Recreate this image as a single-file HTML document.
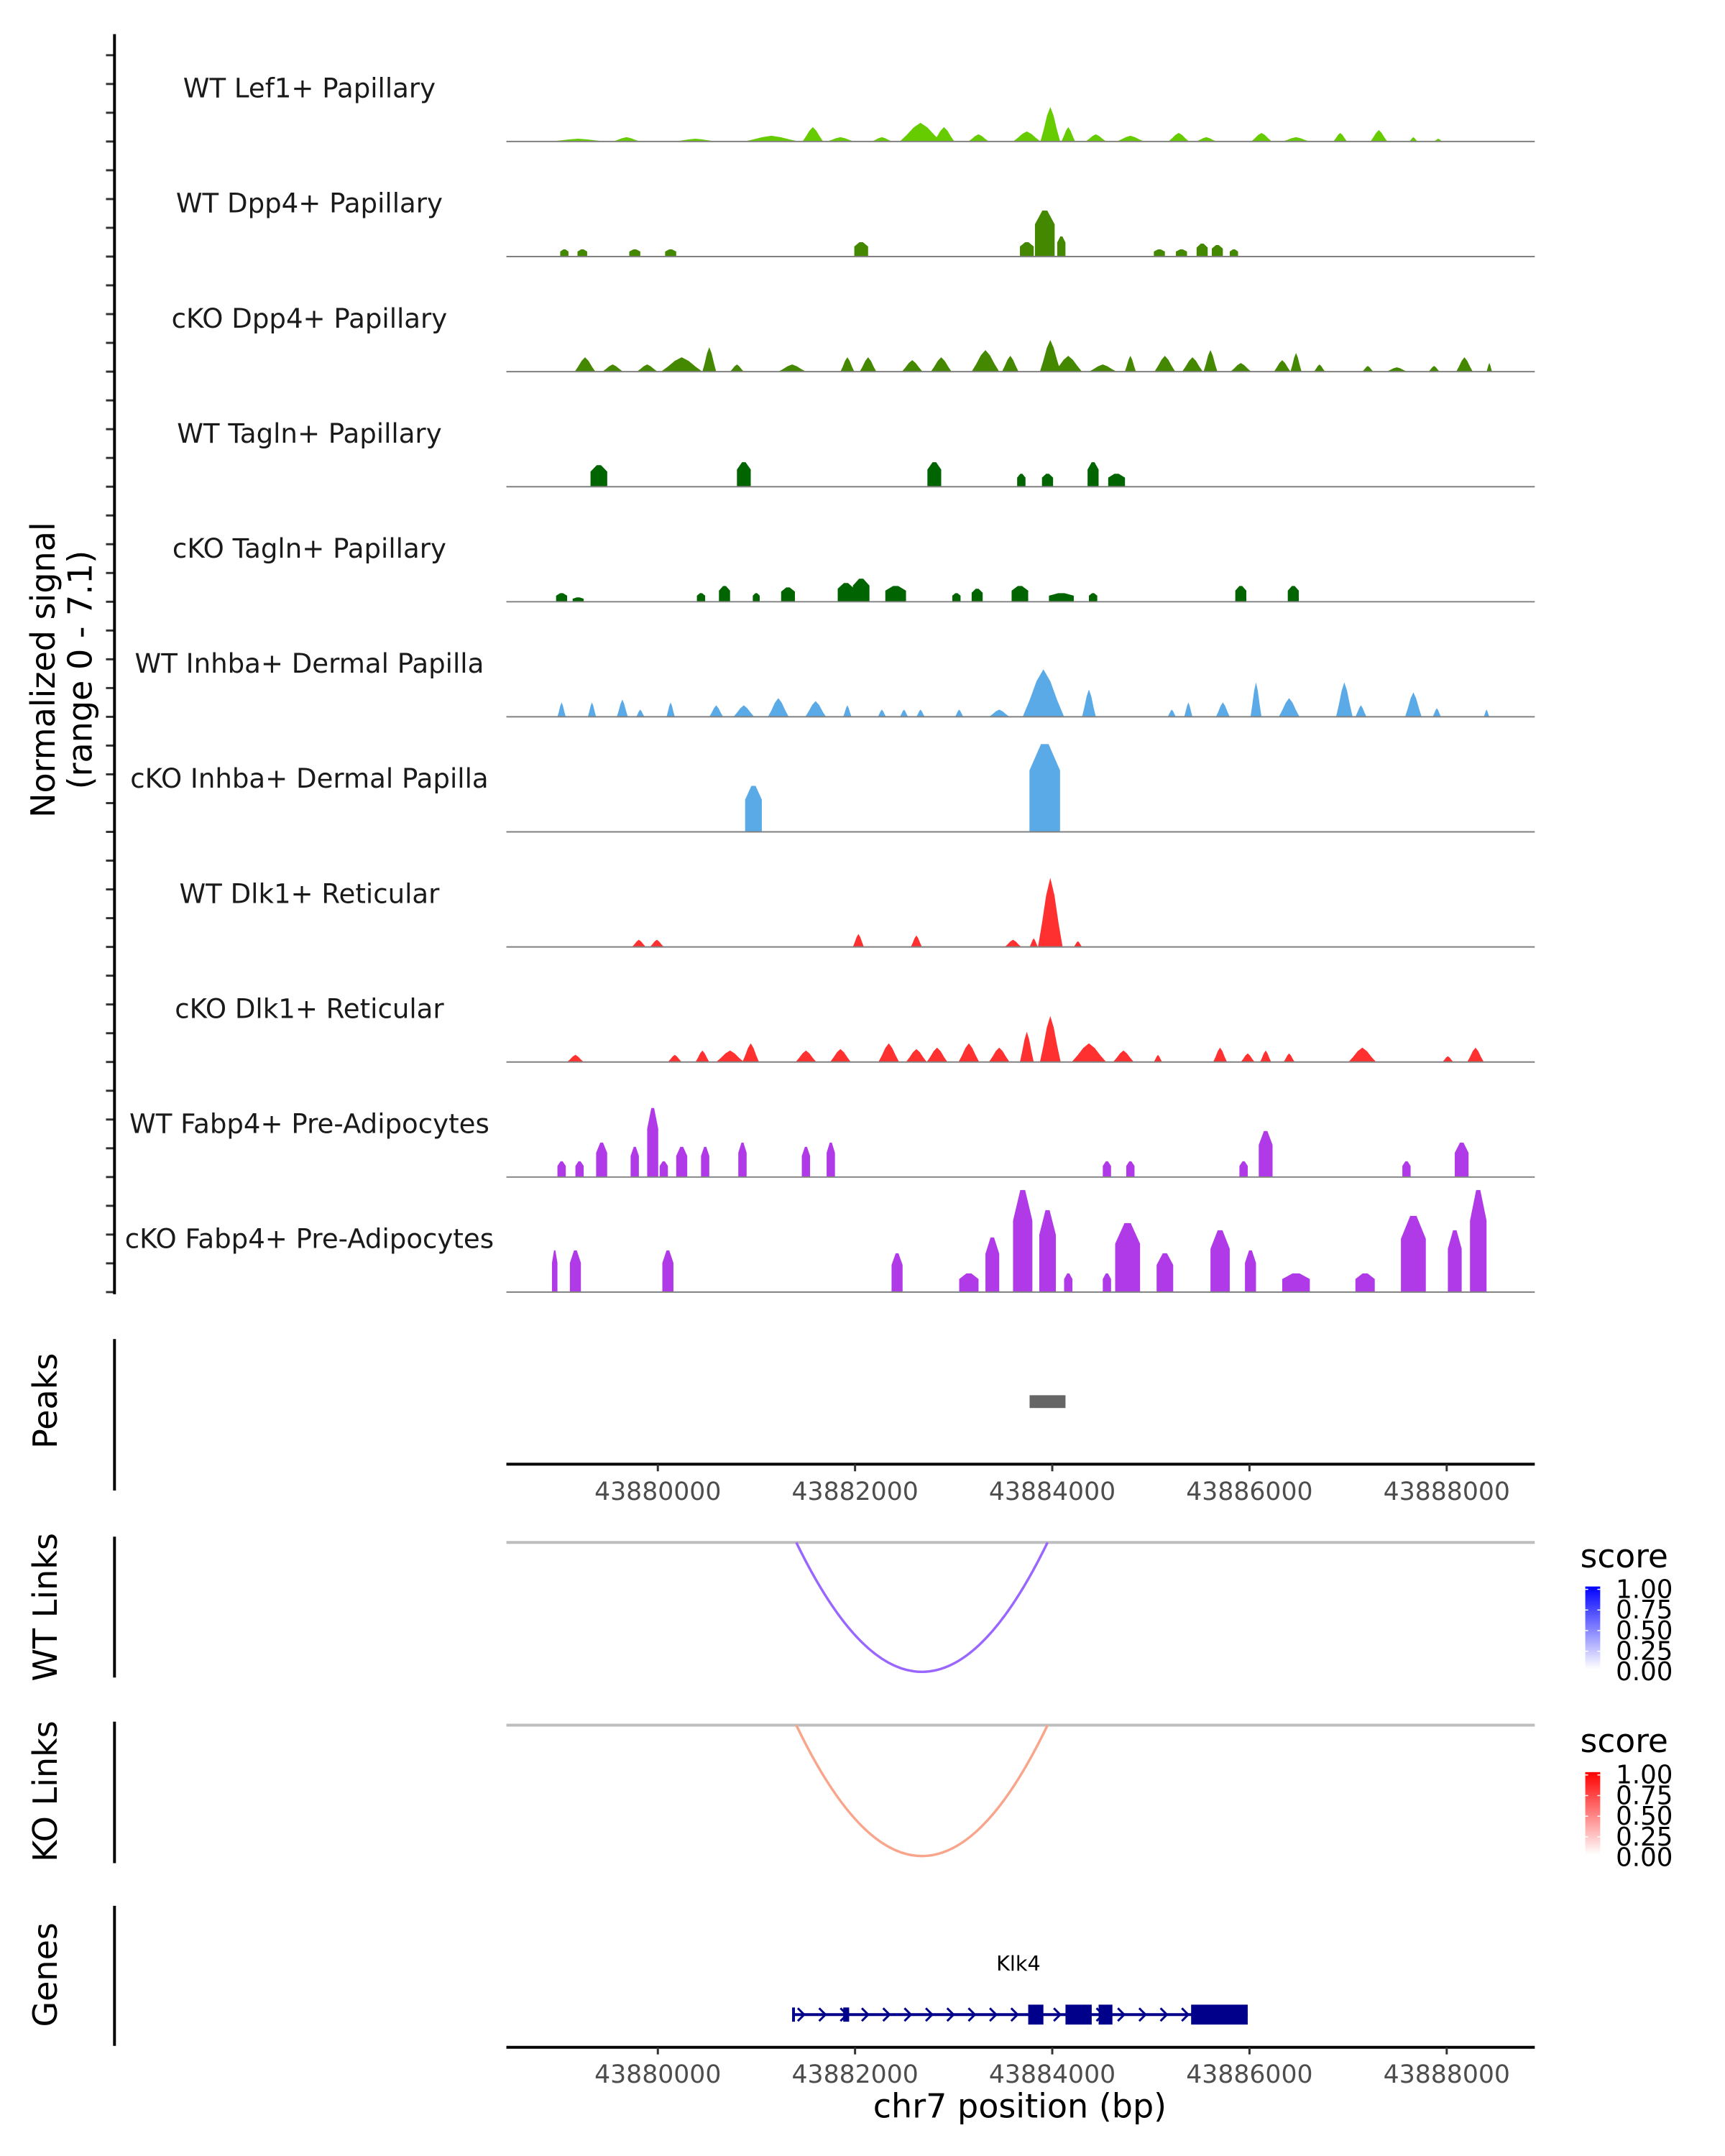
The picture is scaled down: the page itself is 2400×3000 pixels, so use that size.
<!DOCTYPE html>
<html><head><meta charset="utf-8"><style>
html,body{margin:0;padding:0;background:#fff;}
svg{display:block;font-family:"DejaVu Sans","Liberation Sans",sans-serif;}
</style></head><body>
<svg id="chart" width="2400" height="3000" viewBox="0 0 2400 3000" xmlns="http://www.w3.org/2000/svg">
<g transform="scale(0.9895)">
<g id="tracks"></g>
<g id="axes"></g>
</g>
</svg>
<script>
const trackNames = ["WT Lef1+ Papillary","WT Dpp4+ Papillary","cKO Dpp4+ Papillary","WT Tagln+ Papillary","cKO Tagln+ Papillary","WT Inhba+ Dermal Papilla","cKO Inhba+ Dermal Papilla","WT Dlk1+ Reticular","cKO Dlk1+ Reticular","WT Fabp4+ Pre-Adipocytes","cKO Fabp4+ Pre-Adipocytes"];
const trackColors = ["#66cc00","#448800","#448800","#006400","#006400","#5aaae8","#5aaae8","#ff3030","#ff3030","#b03ae8","#b03ae8"];
const trackShapes = ["m","b","m","b","b","m","b","m","m","b","b"];
// peaks: [center bp, width bp, normalized value]
const lef1WT = [[43879192,560,0.2],[43879682,280,0.3],[43880382,420,0.2],[43881152,560,0.4],[43881572,210,1.0],[43881852,280,0.3],[43882272,210,0.3],[43882664,420,1.3],[43882902,210,1.0],[43883252,210,0.5],[43883742,280,0.7],[43883980,200,2.4],[43884162,140,1.0],[43884442,210,0.5],[43884792,280,0.4],[43885282,210,0.6],[43885562,210,0.3],[43886122,210,0.6],[43886472,280,0.3],[43886920,140,0.6],[43887312,170,0.8],[43887662,84,0.3],[43887914,84,0.2]];
const dpp4WT = [[43879052,84,0.5],[43879234,98,0.5],[43879766,112,0.5],[43880130,112,0.5],[43882062,140,1.0],[43883742,140,1.0],[43883924,200,3.2],[43884092,84,1.4],[43885086,112,0.5],[43885310,112,0.5],[43885520,112,0.9],[43885674,112,0.8],[43885842,84,0.5]];
const dpp4KO = [[43879262,210,1.0],[43879542,210,0.5],[43879892,210,0.5],[43880242,420,1.0],[43880522,140,1.7],[43880802,140,0.5],[43881362,280,0.5],[43881922,140,1.0],[43882132,168,1.0],[43882580,210,0.8],[43882874,210,1.0],[43883322,280,1.5],[43883574,168,1.1],[43883980,210,2.2],[43884162,280,1.1],[43884512,280,0.5],[43884792,112,1.1],[43885142,210,1.1],[43885422,210,1.0],[43885604,140,1.5],[43885912,210,0.6],[43886332,168,0.8],[43886472,112,1.3],[43886710,112,0.5],[43887200,112,0.4],[43887494,210,0.3],[43887872,112,0.4],[43888180,168,1.0],[43888432,56,0.6]];
const taglnWT = [[43879402,170,1.5],[43880872,140,1.7],[43882804,140,1.7],[43883686,84,0.9],[43883952,112,0.9],[43884414,112,1.7],[43884652,170,0.9]];
const taglnKO = [[43879024,112,0.6],[43879192,112,0.3],[43880438,84,0.6],[43880676,112,1.1],[43880998,70,0.6],[43881320,140,1.0],[43881908,168,1.3],[43882062,168,1.6],[43882412,210,1.1],[43883028,84,0.6],[43883238,112,0.9],[43883672,168,1.1],[43884092,252,0.6],[43884414,84,0.6],[43885912,112,1.1],[43886444,112,1.1]];
const inhbaWT = [[43879024,84,1.0],[43879332,84,1.0],[43879640,112,1.2],[43879822,84,0.5],[43880130,84,1.0],[43880592,140,0.8],[43880872,210,0.8],[43881222,210,1.3],[43881600,210,1.1],[43881922,84,0.8],[43882272,84,0.5],[43882496,84,0.5],[43882664,84,0.5],[43883056,84,0.5],[43883462,210,0.5],[43883910,420,3.3],[43884372,140,1.9],[43885212,84,0.5],[43885380,84,1.0],[43885730,140,1.0],[43886066,112,2.4],[43886402,210,1.3],[43886962,168,2.4],[43887130,112,0.8],[43887662,168,1.7],[43887900,84,0.6],[43888404,56,0.5]];
const inhbaKO = [[43880970,170,3.2],[43883924,310,6.1]];
const dlk1WT = [[43879808,140,0.5],[43879990,140,0.5],[43882034,112,0.9],[43882622,112,0.8],[43883602,168,0.5],[43883812,84,0.6],[43883980,250,4.8],[43884260,84,0.4]];
const dlk1KO = [[43879164,168,0.5],[43880172,140,0.5],[43880452,140,0.8],[43880732,280,0.8],[43880942,168,1.3],[43881502,210,0.8],[43881852,210,0.9],[43882342,210,1.3],[43882622,210,0.9],[43882832,210,1.0],[43883154,210,1.3],[43883462,210,1.0],[43883742,140,2.1],[43883980,210,3.2],[43884372,350,1.3],[43884722,210,0.8],[43885072,84,0.5],[43885702,140,1.0],[43885982,140,0.6],[43886164,112,0.8],[43886402,112,0.6],[43887144,280,1.0],[43888012,112,0.4],[43888292,168,1.0]];
const fabp4WT = [[43879024,84,1.1],[43879206,84,1.1],[43879430,112,2.4],[43879766,84,2.1],[43879948,112,4.8],[43880060,84,1.1],[43880242,112,2.1],[43880480,84,2.1],[43880858,84,2.4],[43881502,84,2.1],[43881754,84,2.4],[43884554,84,1.1],[43884792,84,1.1],[43885940,84,1.1],[43886164,140,3.2],[43887592,84,1.1],[43888152,140,2.4]];
const fabp4KO = [[43878954,56,2.9],[43879164,112,2.9],[43880102,112,2.9],[43882426,112,2.7],[43883154,196,1.3],[43883392,140,3.8],[43883700,196,7.1],[43883952,168,5.7],[43884162,84,1.3],[43884554,84,1.3],[43884764,252,4.8],[43885142,168,2.7],[43885702,196,4.3],[43886010,112,2.9],[43886472,280,1.3],[43887172,196,1.3],[43887662,252,5.3],[43888082,140,4.3],[43888320,168,7.1]];
const trackData = [lef1WT,dpp4WT,dpp4KO,taglnWT,taglnKO,inhbaWT,inhbaKO,dlk1WT,dlk1KO,fabp4WT,fabp4KO];
const xTicks = [43880000,43882000,43884000,43886000,43888000];
const yTicks = [0,2,4,6];
const peakRegions = [[43883770,43884134]];
const linkWT = [[43881404,43883952,0.6]];
const linkKO = [[43881404,43883952,0.4]];
const geneStart = 43881376, geneEnd = 43885982;
const exons = [[43881880,43881940],[43883756,43883910],[43884134,43884400],[43884470,43884610],[43885408,43885982]];
const legendLabels = ["1.00","0.75","0.50","0.25","0.00"];

const NS="http://www.w3.org/2000/svg";
const X0=712, X1=2158, BP0=43878464, BPX=0.13865;
function xs(bp){return X0+(bp-BP0)*BPX;}
const base0=199, trackStep=161.8, unitH=143.6/7.1;
function ys(v,i){return base0+i*trackStep - v*unitH;}
function mk(tag,attrs,parent){const e=document.createElementNS(NS,tag);for(const k in attrs)e.setAttribute(k,attrs[k]);parent.appendChild(e);return e;}
const T=document.getElementById('tracks'), A=document.getElementById('axes');

trackData.forEach((peaks,i)=>{
  const g=mk('g',{},T);
  
  
  const lbl=mk('text',{x:435,y:ys(0,i)-62,'text-anchor':'middle','font-size':37.5,fill:'#1a1a1a'},g);
  lbl.textContent=trackNames[i];
  
  
  peaks.forEach(p=>{
    const c=p[0],w=p[1],v=p[2];
    let pts;
    if(trackShapes[i]==='b'){
      pts=[[c-w/2,0],[c-w/2,0.7*v],[c-w/8,v],[c+w/8,v],[c+w/2,0.7*v],[c+w/2,0]];
    } else {
      pts=[[c-w/2,0],[c-w/3,0.35*v],[c-w/6,0.75*v],[c,v],[c+w/6,0.75*v],[c+w/3,0.35*v],[c+w/2,0]];
    }
    const poly=mk('polygon',{points:pts.map(q=>xs(q[0]).toFixed(1)+','+ys(q[1],i).toFixed(1)).join(' '),fill:trackColors[i]},g);
    
    
  });
  const bl=mk('line',{x1:X0,x2:X1,y1:ys(0,i),y2:ys(0,i),stroke:'#808080','stroke-width':2},g);
  
  
  yTicks.forEach(t=>{
    const tk=mk('line',{x1:149,x2:161,y1:ys(t,i),y2:ys(t,i),stroke:'#333','stroke-width':3},A);
    
    
  });
});
let ax=mk('line',{x1:161,x2:161,y1:48,y2:1820,stroke:'#000','stroke-width':4},A);

function vtitle(lines,cx,cy,name){
  const t=mk('text',{transform:`translate(${cx},${cy}) rotate(-90)`,'text-anchor':'middle','font-size':46.5,fill:'#000'},A);
  
  lines.forEach((l,k)=>{const s=mk('tspan',{x:0,dy:k===0?(lines.length>1?-8:16):52},t);s.textContent=l;});
}
vtitle(["Normalized signal","(range 0 - 7.1)"],85,942,'y-axis-title');
[[1883,2096,'Peaks',1970,'peaks-axis'],[2161,2359,'WT Links',2260,'wt-links-axis'],[2421,2620,'KO Links',2519,'ko-links-axis'],[2680,2877,'Genes',2777,'genes-axis']].forEach(r=>{
  const l=mk('line',{x1:161,x2:161,y1:r[0],y2:r[1],stroke:'#000','stroke-width':4},A);
  
  vtitle([r[2]],64,r[3],r[4]+'-title');
});
peakRegions.forEach(p=>{
  const r=mk('rect',{x:xs(p[0]),y:1962,width:xs(p[1])-xs(p[0]),height:18,fill:'#666'},A);
  
});
function xaxis(y,name){
  const l=mk('line',{x1:X0,x2:X1,y1:y,y2:y,stroke:'#000','stroke-width':4},A);
  
  xTicks.forEach(t=>{
    const tk=mk('line',{x1:xs(t),x2:xs(t),y1:y,y2:y+10,stroke:'#333','stroke-width':3},A);
    
    const tl=mk('text',{x:xs(t),y:y+50,'text-anchor':'middle','font-size':35,fill:'#4d4d4d'},A);
    tl.textContent=t;
    
  });
}
xaxis(2059,'x-axis-peaks');
function links(data,top,bottom,colorFn,name){
  const gl=mk('line',{x1:X0,x2:X1,y1:top,y2:top,stroke:'#bebebe','stroke-width':4},A);
  
  data.forEach(d=>{
    const a=xs(d[0]),b=xs(d[1]),m=(a+b)/2;
    const p=mk('path',{d:`M${a},${top} Q${m},${2*bottom-top} ${b},${top}`,fill:'none',stroke:colorFn(d[2]),'stroke-width':3.5},A);
    
  });
}
links(linkWT,2169,2351,s=>'#9966ff','wt-link');
links(linkKO,2426,2610,s=>'#f9a58b','ko-link');
function legend(ty,by,c1,name){
  const g=mk('g',{},A);
  
  const t=mk('text',{x:2222,y:ty,'font-size':46,fill:'#000'},g);t.textContent='score';
  const gid=name+'-grad';
  const defs=mk('defs',{},g);const lg=mk('linearGradient',{id:gid,x1:0,y1:1,x2:0,y2:0},defs);
  mk('stop',{offset:0,'stop-color':'#ffffff'},lg);mk('stop',{offset:1,'stop-color':c1},lg);
  mk('rect',{x:2229,y:by,width:21,height:116,fill:`url(#${gid})`},g);
  legendLabels.forEach((l,k)=>{
    const yy=by+4+k*29;
    mk('line',{x1:2229,x2:2233,y1:yy,y2:yy,stroke:'#fff','stroke-width':1.5},g);
    mk('line',{x1:2246,x2:2250,y1:yy,y2:yy,stroke:'#fff','stroke-width':1.5},g);
    const tl=mk('text',{x:2272,y:yy+12,'font-size':36,fill:'#000'},g);tl.textContent=l;
  });
}
legend(2204,2231,'#0000ff','wt-legend');
legend(2464,2492,'#ff0000','ko-legend');
const gg=mk('g',{},A);

const gl=mk('text',{x:1432,y:2771,'text-anchor':'middle','font-size':29,fill:'#000'},gg);gl.textContent='Klk4';
mk('line',{x1:xs(geneStart),x2:xs(geneEnd),y1:2833,y2:2833,stroke:'#00008b','stroke-width':4},gg);
for(let x=xs(geneStart)+6;x<xs(geneEnd)-20;x+=30){
  mk('polyline',{points:`${x},2824 ${x+9},2833 ${x},2842`,fill:'none',stroke:'#00008b','stroke-width':3},gg);
}
mk('line',{x1:xs(geneStart),x2:xs(geneStart),y1:2823,y2:2843,stroke:'#00008b','stroke-width':4},gg);
exons.forEach((e,k)=>{
  const h=k===0?20:28;
  const r=mk('rect',{x:xs(e[0]),y:2833-h/2,width:xs(e[1])-xs(e[0]),height:h,fill:'#00008b'},gg);
  
});
xaxis(2879,'x-axis-genes');
const xt=mk('text',{x:1434,y:2978,'text-anchor':'middle','font-size':46.5,fill:'#000'},A);
xt.textContent='chr7 position (bp)';

</script>
</body></html>
